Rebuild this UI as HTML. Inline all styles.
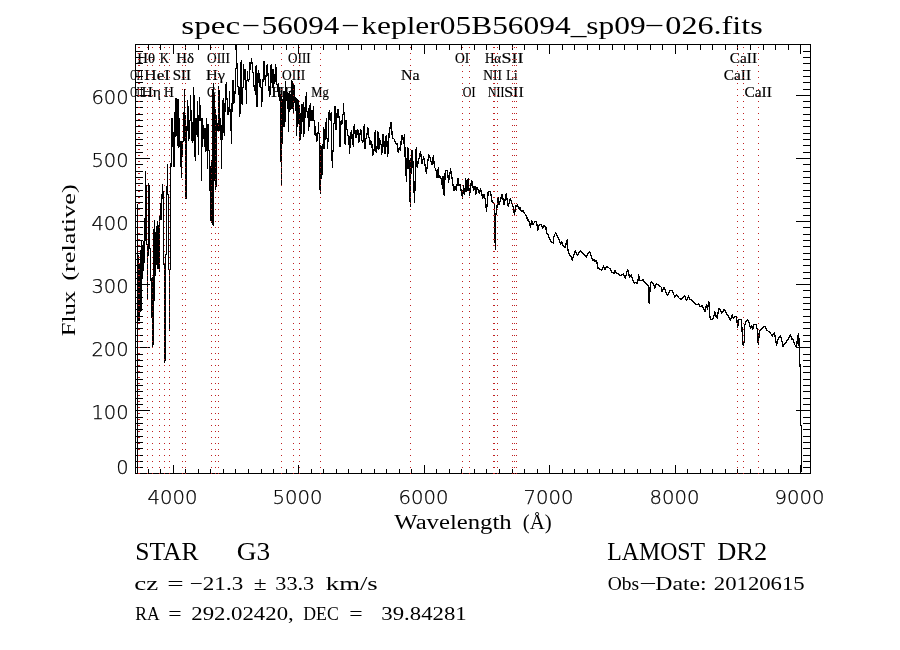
<!DOCTYPE html>
<html><head><meta charset="utf-8"><title>spec-56094-kepler05B56094_sp09-026.fits</title>
<style>html,body{margin:0;padding:0;background:#fff;width:900px;height:650px;overflow:hidden}svg{display:block}</style>
</head><body><svg width="900" height="650" viewBox="0 0 900 650" shape-rendering="crispEdges"><rect x="135.5" y="44.5" width="675" height="429" fill="none" stroke="#000" stroke-width="1"/><path d="M135.5 474V469M135.5 44V50M148.5 474V469M148.5 44V50M160.5 474V469M160.5 44V50M173.5 474V465M173.5 44V54M185.5 474V469M185.5 44V50M198.5 474V469M198.5 44V50M210.5 474V469M210.5 44V50M223.5 474V469M223.5 44V50M235.5 474V469M235.5 44V50M248.5 474V469M248.5 44V50M261.5 474V469M261.5 44V50M273.5 474V469M273.5 44V50M286.5 474V469M286.5 44V50M298.5 474V465M298.5 44V54M311.5 474V469M311.5 44V50M323.5 474V469M323.5 44V50M336.5 474V469M336.5 44V50M348.5 474V469M348.5 44V50M361.5 474V469M361.5 44V50M374.5 474V469M374.5 44V50M386.5 474V469M386.5 44V50M399.5 474V469M399.5 44V50M411.5 474V469M411.5 44V50M424.5 474V465M424.5 44V54M436.5 474V469M436.5 44V50M449.5 474V469M449.5 44V50M461.5 474V469M461.5 44V50M474.5 474V469M474.5 44V50M486.5 474V469M486.5 44V50M499.5 474V469M499.5 44V50M512.5 474V469M512.5 44V50M524.5 474V469M524.5 44V50M537.5 474V469M537.5 44V50M549.5 474V465M549.5 44V54M562.5 474V469M562.5 44V50M574.5 474V469M574.5 44V50M587.5 474V469M587.5 44V50M599.5 474V469M599.5 44V50M612.5 474V469M612.5 44V50M624.5 474V469M624.5 44V50M637.5 474V469M637.5 44V50M650.5 474V469M650.5 44V50M662.5 474V469M662.5 44V50M675.5 474V465M675.5 44V54M687.5 474V469M687.5 44V50M700.5 474V469M700.5 44V50M712.5 474V469M712.5 44V50M725.5 474V469M725.5 44V50M737.5 474V469M737.5 44V50M750.5 474V469M750.5 44V50M763.5 474V469M763.5 44V50M775.5 474V469M775.5 44V50M788.5 474V469M788.5 44V50M800.5 474V465M800.5 44V54M135 473.5H150M811 473.5H796M135 467.5H143M811 467.5H803M135 461.5H143M811 461.5H803M135 455.5H143M811 455.5H803M135 448.5H143M811 448.5H803M135 442.5H143M811 442.5H803M135 436.5H143M811 436.5H803M135 429.5H143M811 429.5H803M135 423.5H143M811 423.5H803M135 417.5H143M811 417.5H803M135 410.5H150M811 410.5H796M135 404.5H143M811 404.5H803M135 398.5H143M811 398.5H803M135 391.5H143M811 391.5H803M135 385.5H143M811 385.5H803M135 379.5H143M811 379.5H803M135 372.5H143M811 372.5H803M135 366.5H143M811 366.5H803M135 360.5H143M811 360.5H803M135 354.5H143M811 354.5H803M135 347.5H150M811 347.5H796M135 341.5H143M811 341.5H803M135 335.5H143M811 335.5H803M135 328.5H143M811 328.5H803M135 322.5H143M811 322.5H803M135 316.5H143M811 316.5H803M135 309.5H143M811 309.5H803M135 303.5H143M811 303.5H803M135 297.5H143M811 297.5H803M135 290.5H143M811 290.5H803M135 284.5H150M811 284.5H796M135 278.5H143M811 278.5H803M135 272.5H143M811 272.5H803M135 265.5H143M811 265.5H803M135 259.5H143M811 259.5H803M135 253.5H143M811 253.5H803M135 246.5H143M811 246.5H803M135 240.5H143M811 240.5H803M135 234.5H143M811 234.5H803M135 227.5H143M811 227.5H803M135 221.5H150M811 221.5H796M135 215.5H143M811 215.5H803M135 208.5H143M811 208.5H803M135 202.5H143M811 202.5H803M135 196.5H143M811 196.5H803M135 190.5H143M811 190.5H803M135 183.5H143M811 183.5H803M135 177.5H143M811 177.5H803M135 171.5H143M811 171.5H803M135 164.5H143M811 164.5H803M135 158.5H150M811 158.5H796M135 152.5H143M811 152.5H803M135 145.5H143M811 145.5H803M135 139.5H143M811 139.5H803M135 133.5H143M811 133.5H803M135 126.5H143M811 126.5H803M135 120.5H143M811 120.5H803M135 114.5H143M811 114.5H803M135 107.5H143M811 107.5H803M135 101.5H143M811 101.5H803M135 95.5H150M811 95.5H796M135 89.5H143M811 89.5H803M135 82.5H143M811 82.5H803M135 76.5H143M811 76.5H803M135 70.5H143M811 70.5H803M135 63.5H143M811 63.5H803M135 57.5H143M811 57.5H803M135 51.5H143M811 51.5H803" stroke="#000" stroke-width="1" fill="none"/><path d="M137.5 204V474M138.5 255V321M139.5 264V321M140.5 250V312M141.5 241V311M142.5 245V279M143.5 241V271M144.5 218V263M145.5 171V241M146.5 185V245M147.5 244V300M148.5 183V256M149.5 185V249M150.5 248V281M151.5 278V318M152.5 277V348M153.5 229V345M154.5 220V301M155.5 232V276M156.5 226V265M157.5 221V269M158.5 225V269M159.5 216V272M160.5 203V220M161.5 194V220M162.5 184V199M163.5 191V265M164.5 263V363M165.5 254V361M166.5 186V255M167.5 164V195M168.5 194V270M169.5 269V331M170.5 163V270M171.5 118V167M172.5 118V147M173.5 132V167M174.5 112V167M175.5 98V137M176.5 98V136M177.5 99V146M178.5 99V148M179.5 118V147M180.5 141V167M181.5 141V178M182.5 141V157M183.5 112V142M184.5 89V141M185.5 115V199M186.5 126V199M187.5 100V131M188.5 106V141M189.5 120V139M190.5 95V121M191.5 110V141M192.5 122V143M193.5 87V141M194.5 95V157M195.5 118V161M196.5 118V135M197.5 101V137M198.5 115V155M199.5 97V121M200.5 105V121M201.5 118V181M202.5 118V147M203.5 125V139M204.5 128V147M205.5 128V152M206.5 118V151M207.5 124V169M208.5 124V151M209.5 150V191M210.5 166V221M211.5 160V223M212.5 89V225M213.5 83V226M214.5 95V181M215.5 109V190M216.5 115V187M217.5 123V131M218.5 86V131M219.5 90V131M220.5 118V140M221.5 125V169M222.5 100V140M223.5 98V133M224.5 103V136M225.5 84V112M226.5 82V100M227.5 98V115M228.5 107V115M229.5 91V112M230.5 109V131M231.5 103V144M232.5 80V112M233.5 80V104M234.5 91V103M235.5 68V94M236.5 44V69M237.5 63V87M238.5 86V95M239.5 87V117M240.5 62V114M241.5 60V104M242.5 87V105M243.5 64V88M244.5 69V80M245.5 69V90M246.5 80V104M247.5 71V81M248.5 79V82M249.5 62V80M250.5 62V70M251.5 58V64M252.5 62V73M253.5 72V87M254.5 85V91M255.5 66V95M256.5 65V107M257.5 73V107M258.5 70V83M259.5 73V87M260.5 79V88M261.5 87V107M262.5 79V102M263.5 61V82M264.5 61V80M265.5 75V86M266.5 65V77M267.5 64V76M268.5 73V91M269.5 86V97M270.5 65V95M271.5 64V83M272.5 69V88M273.5 69V91M274.5 74V84M275.5 64V82M276.5 67V85M277.5 84V92M278.5 83V97M279.5 87V101M280.5 94V162M281.5 95V186M282.5 99V144M283.5 91V127M284.5 91V127M285.5 81V122M286.5 87V101M287.5 92V109M288.5 93V132M289.5 91V112M290.5 94V110M291.5 80V109M292.5 81V109M293.5 84V114M294.5 85V103M295.5 97V111M296.5 98V136M297.5 99V127M298.5 100V124M299.5 105V141M300.5 113V140M301.5 104V134M302.5 104V122M303.5 102V137M304.5 107V134M305.5 96V118M306.5 92V112M307.5 111V118M308.5 108V131M309.5 105V127M310.5 103V121M311.5 110V121M312.5 110V121M313.5 106V121M314.5 120V135M315.5 126V136M316.5 133V142M317.5 132V141M318.5 122V134M319.5 133V190M320.5 145V194M321.5 146V179M322.5 144V175M323.5 127V149M324.5 129V149M325.5 122V140M326.5 118V139M327.5 138V149M328.5 112V142M329.5 110V120M330.5 113V121M331.5 112V161M332.5 150V168M333.5 123V152M334.5 106V124M335.5 106V130M336.5 113V130M337.5 109V118M338.5 109V118M339.5 116V147M340.5 121V147M341.5 120V125M342.5 114V124M343.5 103V115M344.5 112V144M345.5 120V145M346.5 120V130M347.5 129V136M348.5 135V145M349.5 136V154M350.5 132V148M351.5 130V139M352.5 134V145M353.5 126V147M354.5 124V134M355.5 130V138M356.5 130V138M357.5 129V135M358.5 130V143M359.5 133V142M360.5 129V135M361.5 130V141M362.5 140V143M363.5 126V142M364.5 124V149M365.5 138V149M366.5 133V139M367.5 127V135M368.5 128V138M369.5 137V145M370.5 140V145M371.5 141V148M372.5 144V156M373.5 149V155M374.5 132V151M375.5 130V152M376.5 146V153M377.5 131V149M378.5 132V150M379.5 138V149M380.5 140V145M381.5 144V155M382.5 134V153M383.5 134V147M384.5 141V154M385.5 136V154M386.5 135V147M387.5 141V157" fill="none" stroke="#000" stroke-width="1"/><path d="M388.0,150.0 387.8,155.4 389.3,131.5 391.2,122.3 392.4,137.7 394.3,139.2 395.8,143.8 397.0,143.8 398.2,152.0 399.3,147.7 400.5,150.0 401.6,135.4 402.8,136.0 403.5,143.8 404.5,134.2 405.4,165.9 406.5,181.0 407.5,147.5 408.6,150.8 410.3,206.8 411.3,150.2 412.4,150.5 413.5,175.0 414.5,202.5 416.2,148.0 417.2,167.5 420.5,151.3 422.0,163.2 423.7,156.7 426.4,173.4 428.6,155.0 429.6,155.5 431.8,164.8 433.4,156.0 434.5,167.0 436.0,170.0 437.2,177.7 438.3,168.0 438.8,177.7 439.9,176.0 441.0,178.0 441.5,180.0 442.6,188.5 443.1,176.6 444.2,195.5 445.3,170.2 447.4,170.2 448.5,182.0 450.6,169.0 453.9,190.6 455.0,186.0 456.4,190.6 457.8,178.1 459.0,186.0 460.0,184.4 461.2,191.0 462.6,198.2 463.5,186.0 464.7,194.0 465.8,178.8 466.8,191.3 468.1,178.8 469.5,195.4 471.6,180.2 473.7,190.0 475.0,186.0 475.7,194.7 477.1,187.1 479.2,193.4 480.6,189.0 482.7,198.2 484.0,194.0 485.4,200.0 486.5,211.3 487.5,200.0 488.2,191.3 490.3,191.3 492.3,202.3 494.4,203.7 495.3,249.4 495.8,215.0 496.5,212.0 497.9,197.5 499.0,205.0 500.5,200.0 502.0,194.0 504.1,205.0 506.2,194.0 508.2,206.5 510.3,198.2 513.1,206.5 514.5,214.8 515.5,206.0 516.5,206.5 517.5,205.0 519.3,209.3 520.0,207.3 521.2,211.0 523.1,211.0 525.0,214.0 526.8,216.5 527.4,220.2 528.6,219.6 530.5,227.0 531.7,220.8 532.9,224.5 534.8,222.0 536.6,221.5 537.8,230.7 539.0,225.2 540.9,224.5 542.8,228.2 544.0,225.8 545.8,226.4 546.5,233.2 547.7,233.8 548.9,236.8 551.4,242.4 553.2,243.0 553.8,236.8 555.7,232.5 557.5,236.8 559.4,240.5 560.6,244.8 561.8,241.8 563.1,245.5 564.9,247.9 567.4,239.3 567.4,247.9 569.2,254.1 571.1,256.5 572.3,260.2 573.5,255.3 575.4,251.0 577.2,255.3 580.3,251.0 582.2,252.8 583.4,254.1 585.2,255.3 586.5,257.2 588.3,252.8 589.5,251.6 591.4,256.5 592.6,260.8 594.5,259.6 595.0,261.5 596.5,260.7 598.1,268.3 599.9,269.5 601.8,270.2 603.6,265.8 604.8,269.5 606.7,266.5 608.5,267.7 610.4,268.9 612.2,272.6 614.1,273.2 615.3,270.2 616.5,273.8 618.4,273.2 619.6,275.7 621.5,275.1 623.3,273.8 625.2,278.2 627.6,269.5 629.5,276.9 631.3,275.1 633.2,280.6 634.4,283.1 636.2,282.5 637.5,283.7 638.7,275.1 639.9,280.6 641.8,280.6 643.0,279.4 644.8,282.5 646.7,284.3 648.5,286.2 649.2,303.4 650.4,283.1 651.6,281.8 653.5,284.3 654.7,288.0 656.5,283.7 659.0,285.5 661.5,287.4 662.1,291.7 663.9,287.4 665.8,291.7 667.6,295.4 670.1,290.5 671.9,290.5 673.1,292.8 674.9,297.1 676.2,294.6 678.0,296.5 679.2,298.3 681.1,299.5 682.9,297.7 684.8,295.8 686.6,300.8 688.5,295.8 689.7,298.9 692.2,300.8 694.6,303.2 696.5,304.5 698.9,303.8 700.2,306.9 702.0,305.1 703.8,309.4 705.1,311.2 706.3,305.1 707.5,309.4 708.8,301.4 709.4,310.6 710.0,318.0 711.2,319.8 713.1,318.6 714.9,311.8 716.2,316.8 717.4,318.0 718.6,308.2 719.8,309.4 721.7,313.1 724.2,309.4 726.0,312.5 727.8,315.5 730.3,320.5 732.2,314.9 733.4,318.6 735.2,316.2 736.5,316.8 737.7,327.2 738.9,319.2 740.0,320.0 741.4,319.2 741.6,322.6 742.7,340.9 743.2,345.2 744.3,340.9 744.8,324.8 745.9,321.5 747.5,319.9 748.6,320.5 749.7,325.8 750.8,328.0 751.8,325.8 752.7,329.1 754.0,324.8 756.1,324.2 757.2,329.1 757.8,340.9 758.5,344.1 759.2,332.3 760.5,329.6 762.1,328.0 763.1,327.4 765.3,326.4 766.4,329.6 767.4,330.7 769.6,331.8 772.3,336.1 774.4,332.3 776.6,345.2 777.7,339.8 780.4,335.5 781.4,338.8 783.1,346.3 785.2,343.1 787.9,339.8 790.6,334.4 791.7,339.8 792.7,338.8 794.4,344.1 796.5,347.4 797.6,337.1 798.7,333.4 799.2,347.4 799.7,361.4 800.2,368.0 800.4,424.0 801.2,426.0 801.4,472.0" fill="none" stroke="#000" stroke-width="1.3" stroke-linejoin="round"/><g shape-rendering="auto" fill="#000"><text y="33.6" font-size="25.5" font-family="'Liberation Serif', serif" xml:space="preserve"><tspan x="181.30" textLength="58.90" lengthAdjust="spacingAndGlyphs">spec</tspan><tspan x="241.80" textLength="18.40" lengthAdjust="spacingAndGlyphs">&#8722;</tspan><tspan x="261.80" textLength="77.40" lengthAdjust="spacingAndGlyphs">56094</tspan><tspan x="341.30" textLength="18.40" lengthAdjust="spacingAndGlyphs">&#8722;</tspan><tspan x="361.30" textLength="284.40" lengthAdjust="spacingAndGlyphs">kepler05B56094_sp09</tspan><tspan x="644.80" textLength="19.40" lengthAdjust="spacingAndGlyphs">&#8722;</tspan><tspan x="665.30" textLength="97.40" lengthAdjust="spacingAndGlyphs">026.fits</tspan></text><text y="560" font-size="26" font-family="'Liberation Serif', serif" xml:space="preserve"><tspan x="135.30" textLength="63.40" lengthAdjust="spacingAndGlyphs">STAR</tspan> <tspan x="236.80" textLength="33.40" lengthAdjust="spacingAndGlyphs">G3</tspan></text><text y="560" font-size="26" font-family="'Liberation Serif', serif" xml:space="preserve"><tspan x="607.30" textLength="97.40" lengthAdjust="spacingAndGlyphs">LAMOST</tspan> <tspan x="717.30" textLength="49.90" lengthAdjust="spacingAndGlyphs">DR2</tspan></text><text y="590" font-size="19" font-family="'Liberation Serif', serif" xml:space="preserve"><tspan x="134.30" textLength="23.90" lengthAdjust="spacingAndGlyphs">cz</tspan> <tspan x="167.30" textLength="16.40" lengthAdjust="spacingAndGlyphs">=</tspan> <tspan x="189.80" textLength="53.40" lengthAdjust="spacingAndGlyphs">&#8722;21.3</tspan> <tspan x="253.80" textLength="12.90" lengthAdjust="spacingAndGlyphs">&#177;</tspan> <tspan x="275.30" textLength="38.90" lengthAdjust="spacingAndGlyphs">33.3</tspan> <tspan x="325.80" textLength="51.90" lengthAdjust="spacingAndGlyphs">km/s</tspan></text><text y="590" font-size="19" font-family="'Liberation Serif', serif" xml:space="preserve"><tspan x="607.80" textLength="31.40" lengthAdjust="spacingAndGlyphs">Obs</tspan><tspan x="639.30" textLength="17.40" lengthAdjust="spacingAndGlyphs">&#8722;</tspan><tspan x="655.30" textLength="51.40" lengthAdjust="spacingAndGlyphs">Date:</tspan> <tspan x="713.80" textLength="90.90" lengthAdjust="spacingAndGlyphs">20120615</tspan></text><text y="620" font-size="18.6" font-family="'Liberation Serif', serif" xml:space="preserve"><tspan x="135.30" textLength="23.40" lengthAdjust="spacingAndGlyphs">RA</tspan> <tspan x="168.30" textLength="13.40" lengthAdjust="spacingAndGlyphs">=</tspan> <tspan x="191.30" textLength="102.40" lengthAdjust="spacingAndGlyphs">292.02420,</tspan> <tspan x="303.30" textLength="35.40" lengthAdjust="spacingAndGlyphs">DEC</tspan> <tspan x="349.30" textLength="13.40" lengthAdjust="spacingAndGlyphs">=</tspan>  <tspan x="381.30" textLength="85.40" lengthAdjust="spacingAndGlyphs">39.84281</tspan></text><text y="529" font-size="20" font-family="'Liberation Serif', serif" xml:space="preserve"><tspan x="394.30" textLength="117.40" lengthAdjust="spacingAndGlyphs">Wavelength</tspan> <tspan x="522.80" textLength="28.90" lengthAdjust="spacingAndGlyphs">(&#197;)</tspan></text><text y="0" font-size="19" font-family="'Liberation Serif', serif" transform="translate(74.5,0) rotate(-90)" xml:space="preserve"><tspan x="-336.20" textLength="45.40" lengthAdjust="spacingAndGlyphs">Flux</tspan> <tspan x="-280.70" textLength="96.40" lengthAdjust="spacingAndGlyphs">(relative)</tspan></text><text x="172.5" y="503.8" font-size="19.5" font-family="'DejaVu Sans', 'Liberation Sans', sans-serif" font-weight="200" text-anchor="middle" textLength="50" lengthAdjust="spacingAndGlyphs" stroke="#000" stroke-width="0.25">4000</text><text x="297.5" y="503.8" font-size="19.5" font-family="'DejaVu Sans', 'Liberation Sans', sans-serif" font-weight="200" text-anchor="middle" textLength="50" lengthAdjust="spacingAndGlyphs" stroke="#000" stroke-width="0.25">5000</text><text x="423.5" y="503.8" font-size="19.5" font-family="'DejaVu Sans', 'Liberation Sans', sans-serif" font-weight="200" text-anchor="middle" textLength="50" lengthAdjust="spacingAndGlyphs" stroke="#000" stroke-width="0.25">6000</text><text x="548.5" y="503.8" font-size="19.5" font-family="'DejaVu Sans', 'Liberation Sans', sans-serif" font-weight="200" text-anchor="middle" textLength="50" lengthAdjust="spacingAndGlyphs" stroke="#000" stroke-width="0.25">7000</text><text x="674.5" y="503.8" font-size="19.5" font-family="'DejaVu Sans', 'Liberation Sans', sans-serif" font-weight="200" text-anchor="middle" textLength="50" lengthAdjust="spacingAndGlyphs" stroke="#000" stroke-width="0.25">8000</text><text x="799.5" y="503.8" font-size="19.5" font-family="'DejaVu Sans', 'Liberation Sans', sans-serif" font-weight="200" text-anchor="middle" textLength="50" lengthAdjust="spacingAndGlyphs" stroke="#000" stroke-width="0.25">9000</text><text x="128.6" y="419.2" font-size="19.5" font-family="'DejaVu Sans', 'Liberation Sans', sans-serif" font-weight="200" text-anchor="end" textLength="37.2" lengthAdjust="spacingAndGlyphs" stroke="#000" stroke-width="0.25">100</text><text x="128.6" y="356.2" font-size="19.5" font-family="'DejaVu Sans', 'Liberation Sans', sans-serif" font-weight="200" text-anchor="end" textLength="37.2" lengthAdjust="spacingAndGlyphs" stroke="#000" stroke-width="0.25">200</text><text x="128.6" y="293.2" font-size="19.5" font-family="'DejaVu Sans', 'Liberation Sans', sans-serif" font-weight="200" text-anchor="end" textLength="37.2" lengthAdjust="spacingAndGlyphs" stroke="#000" stroke-width="0.25">300</text><text x="128.6" y="230.2" font-size="19.5" font-family="'DejaVu Sans', 'Liberation Sans', sans-serif" font-weight="200" text-anchor="end" textLength="37.2" lengthAdjust="spacingAndGlyphs" stroke="#000" stroke-width="0.25">400</text><text x="128.6" y="167.2" font-size="19.5" font-family="'DejaVu Sans', 'Liberation Sans', sans-serif" font-weight="200" text-anchor="end" textLength="37.2" lengthAdjust="spacingAndGlyphs" stroke="#000" stroke-width="0.25">500</text><text x="128.6" y="104.2" font-size="19.5" font-family="'DejaVu Sans', 'Liberation Sans', sans-serif" font-weight="200" text-anchor="end" textLength="37.2" lengthAdjust="spacingAndGlyphs" stroke="#000" stroke-width="0.25">600</text><text x="128.6" y="474.2" font-size="19.5" font-family="'DejaVu Sans', 'Liberation Sans', sans-serif" font-weight="200" text-anchor="end" textLength="12.4" lengthAdjust="spacingAndGlyphs" stroke="#000" stroke-width="0.25">0</text><text x="137.2" y="63.0" font-size="15" font-family="'Liberation Serif', serif" font-weight="normal" text-anchor="start" textLength="17.8" lengthAdjust="spacingAndGlyphs" stroke="#000" stroke-width="0.2">H&#952;</text><text x="159.8" y="63.0" font-size="15" font-family="'Liberation Serif', serif" font-weight="normal" text-anchor="start" textLength="9.2" lengthAdjust="spacingAndGlyphs" stroke="#000" stroke-width="0.2">K</text><text x="176.3" y="63.0" font-size="15" font-family="'Liberation Serif', serif" font-weight="normal" text-anchor="start" textLength="17.7" lengthAdjust="spacingAndGlyphs" stroke="#000" stroke-width="0.2">H&#948;</text><text x="207.0" y="63.0" font-size="15" font-family="'Liberation Serif', serif" font-weight="normal" text-anchor="start" textLength="23.0" lengthAdjust="spacingAndGlyphs" stroke="#000" stroke-width="0.2">OIII</text><text x="288.1" y="63.0" font-size="15" font-family="'Liberation Serif', serif" font-weight="normal" text-anchor="start" textLength="22.6" lengthAdjust="spacingAndGlyphs" stroke="#000" stroke-width="0.2">OIII</text><text x="455.0" y="63.0" font-size="15" font-family="'Liberation Serif', serif" font-weight="normal" text-anchor="start" textLength="14.3" lengthAdjust="spacingAndGlyphs" stroke="#000" stroke-width="0.2">OI</text><text x="484.9" y="63.0" font-size="15" font-family="'Liberation Serif', serif" font-weight="normal" text-anchor="start" textLength="16.3" lengthAdjust="spacingAndGlyphs" stroke="#000" stroke-width="0.2">H&#945;</text><text x="501.5" y="63.0" font-size="15" font-family="'Liberation Serif', serif" font-weight="normal" text-anchor="start" textLength="21.9" lengthAdjust="spacingAndGlyphs" stroke="#000" stroke-width="0.2">SII</text><text x="729.8" y="63.0" font-size="15" font-family="'Liberation Serif', serif" font-weight="normal" text-anchor="start" textLength="27.2" lengthAdjust="spacingAndGlyphs" stroke="#000" stroke-width="0.2">CaII</text><text x="130.2" y="80" font-size="15" font-family="'Liberation Serif', serif" font-weight="normal" text-anchor="start" textLength="12.8" lengthAdjust="spacingAndGlyphs" stroke="#000" stroke-width="0.2">OII</text><text x="144.3" y="80" font-size="15" font-family="'Liberation Serif', serif" font-weight="normal" text-anchor="start" textLength="25.7" lengthAdjust="spacingAndGlyphs" stroke="#000" stroke-width="0.2">HeI</text><text x="172.7" y="80" font-size="15" font-family="'Liberation Serif', serif" font-weight="normal" text-anchor="start" textLength="18.3" lengthAdjust="spacingAndGlyphs" stroke="#000" stroke-width="0.2">SII</text><text x="206.0" y="80" font-size="15" font-family="'Liberation Serif', serif" font-weight="normal" text-anchor="start" textLength="19.0" lengthAdjust="spacingAndGlyphs" stroke="#000" stroke-width="0.2">H&#947;</text><text x="282.1" y="80" font-size="15" font-family="'Liberation Serif', serif" font-weight="normal" text-anchor="start" textLength="23.1" lengthAdjust="spacingAndGlyphs" stroke="#000" stroke-width="0.2">OIII</text><text x="400.9" y="80" font-size="15" font-family="'Liberation Serif', serif" font-weight="normal" text-anchor="start" textLength="18.6" lengthAdjust="spacingAndGlyphs" stroke="#000" stroke-width="0.2">Na</text><text x="483.3" y="80" font-size="15" font-family="'Liberation Serif', serif" font-weight="normal" text-anchor="start" textLength="18.7" lengthAdjust="spacingAndGlyphs" stroke="#000" stroke-width="0.2">NII</text><text x="506.3" y="80" font-size="15" font-family="'Liberation Serif', serif" font-weight="normal" text-anchor="start" textLength="11.2" lengthAdjust="spacingAndGlyphs" stroke="#000" stroke-width="0.2">Li</text><text x="723.8" y="80" font-size="15" font-family="'Liberation Serif', serif" font-weight="normal" text-anchor="start" textLength="27.2" lengthAdjust="spacingAndGlyphs" stroke="#000" stroke-width="0.2">CaII</text><text x="130.2" y="97" font-size="15" font-family="'Liberation Serif', serif" font-weight="normal" text-anchor="start" textLength="12.8" lengthAdjust="spacingAndGlyphs" stroke="#000" stroke-width="0.2">OII</text><text x="141.5" y="97" font-size="15" font-family="'Liberation Serif', serif" font-weight="normal" text-anchor="start" textLength="19.5" lengthAdjust="spacingAndGlyphs" stroke="#000" stroke-width="0.2">H&#951;</text><text x="164.0" y="97" font-size="15" font-family="'Liberation Serif', serif" font-weight="normal" text-anchor="start" textLength="9.8" lengthAdjust="spacingAndGlyphs" stroke="#000" stroke-width="0.2">H</text><text x="207.0" y="97" font-size="15" font-family="'Liberation Serif', serif" font-weight="normal" text-anchor="start" textLength="9.0" lengthAdjust="spacingAndGlyphs" stroke="#000" stroke-width="0.2">G</text><text x="271.0" y="97" font-size="15" font-family="'Liberation Serif', serif" font-weight="normal" text-anchor="start" textLength="23.0" lengthAdjust="spacingAndGlyphs" stroke="#000" stroke-width="0.2">H&#946;</text><text x="311.2" y="97" font-size="15" font-family="'Liberation Serif', serif" font-weight="normal" text-anchor="start" textLength="17.5" lengthAdjust="spacingAndGlyphs" stroke="#000" stroke-width="0.2">Mg</text><text x="462.8" y="97" font-size="15" font-family="'Liberation Serif', serif" font-weight="normal" text-anchor="start" textLength="12.7" lengthAdjust="spacingAndGlyphs" stroke="#000" stroke-width="0.2">OI</text><text x="488.0" y="97" font-size="15" font-family="'Liberation Serif', serif" font-weight="normal" text-anchor="start" textLength="16.3" lengthAdjust="spacingAndGlyphs" stroke="#000" stroke-width="0.2">NII</text><text x="504.3" y="97" font-size="15" font-family="'Liberation Serif', serif" font-weight="normal" text-anchor="start" textLength="19.4" lengthAdjust="spacingAndGlyphs" stroke="#000" stroke-width="0.2">SII</text><text x="744.5" y="97" font-size="15" font-family="'Liberation Serif', serif" font-weight="normal" text-anchor="start" textLength="27.3" lengthAdjust="spacingAndGlyphs" stroke="#000" stroke-width="0.2">CaII</text></g><path d="M138 47h1v1h-1zM138 53h1v1h-1zM138 59h1v1h-1zM138 65h1v1h-1zM138 71h1v1h-1zM138 77h1v1h-1zM138 83h1v1h-1zM138 89h1v1h-1zM138 95h1v1h-1zM138 101h1v1h-1zM138 107h1v1h-1zM138 113h1v1h-1zM138 119h1v1h-1zM138 125h1v1h-1zM138 131h1v1h-1zM138 137h1v1h-1zM138 143h1v1h-1zM138 149h1v1h-1zM138 155h1v1h-1zM138 161h1v1h-1zM138 167h1v1h-1zM138 173h1v1h-1zM138 179h1v1h-1zM138 185h1v1h-1zM138 191h1v1h-1zM138 197h1v1h-1zM138 203h1v1h-1zM138 209h1v1h-1zM138 215h1v1h-1zM138 221h1v1h-1zM138 227h1v1h-1zM138 233h1v1h-1zM138 239h1v1h-1zM138 245h1v1h-1zM138 251h1v1h-1zM138 257h1v1h-1zM138 263h1v1h-1zM138 269h1v1h-1zM138 275h1v1h-1zM138 281h1v1h-1zM138 287h1v1h-1zM138 293h1v1h-1zM138 299h1v1h-1zM138 305h1v1h-1zM138 311h1v1h-1zM138 317h1v1h-1zM138 323h1v1h-1zM138 329h1v1h-1zM138 335h1v1h-1zM138 341h1v1h-1zM138 347h1v1h-1zM138 353h1v1h-1zM138 359h1v1h-1zM138 365h1v1h-1zM138 371h1v1h-1zM138 377h1v1h-1zM138 383h1v1h-1zM138 389h1v1h-1zM138 395h1v1h-1zM138 401h1v1h-1zM138 407h1v1h-1zM138 413h1v1h-1zM138 419h1v1h-1zM138 425h1v1h-1zM138 431h1v1h-1zM138 437h1v1h-1zM138 443h1v1h-1zM138 449h1v1h-1zM138 455h1v1h-1zM138 461h1v1h-1zM138 467h1v1h-1zM138 473h1v1h-1zM139 47h1v1h-1zM139 53h1v1h-1zM139 59h1v1h-1zM139 65h1v1h-1zM139 71h1v1h-1zM139 77h1v1h-1zM139 83h1v1h-1zM139 89h1v1h-1zM139 95h1v1h-1zM139 101h1v1h-1zM139 107h1v1h-1zM139 113h1v1h-1zM139 119h1v1h-1zM139 125h1v1h-1zM139 131h1v1h-1zM139 137h1v1h-1zM139 143h1v1h-1zM139 149h1v1h-1zM139 155h1v1h-1zM139 161h1v1h-1zM139 167h1v1h-1zM139 173h1v1h-1zM139 179h1v1h-1zM139 185h1v1h-1zM139 191h1v1h-1zM139 197h1v1h-1zM139 203h1v1h-1zM139 209h1v1h-1zM139 215h1v1h-1zM139 221h1v1h-1zM139 227h1v1h-1zM139 233h1v1h-1zM139 239h1v1h-1zM139 245h1v1h-1zM139 251h1v1h-1zM139 257h1v1h-1zM139 263h1v1h-1zM139 269h1v1h-1zM139 275h1v1h-1zM139 281h1v1h-1zM139 287h1v1h-1zM139 293h1v1h-1zM139 299h1v1h-1zM139 305h1v1h-1zM139 311h1v1h-1zM139 317h1v1h-1zM139 323h1v1h-1zM139 329h1v1h-1zM139 335h1v1h-1zM139 341h1v1h-1zM139 347h1v1h-1zM139 353h1v1h-1zM139 359h1v1h-1zM139 365h1v1h-1zM139 371h1v1h-1zM139 377h1v1h-1zM139 383h1v1h-1zM139 389h1v1h-1zM139 395h1v1h-1zM139 401h1v1h-1zM139 407h1v1h-1zM139 413h1v1h-1zM139 419h1v1h-1zM139 425h1v1h-1zM139 431h1v1h-1zM139 437h1v1h-1zM139 443h1v1h-1zM139 449h1v1h-1zM139 455h1v1h-1zM139 461h1v1h-1zM139 467h1v1h-1zM139 473h1v1h-1zM147 47h1v1h-1zM147 53h1v1h-1zM147 59h1v1h-1zM147 65h1v1h-1zM147 71h1v1h-1zM147 77h1v1h-1zM147 83h1v1h-1zM147 89h1v1h-1zM147 95h1v1h-1zM147 101h1v1h-1zM147 107h1v1h-1zM147 113h1v1h-1zM147 119h1v1h-1zM147 125h1v1h-1zM147 131h1v1h-1zM147 137h1v1h-1zM147 143h1v1h-1zM147 149h1v1h-1zM147 155h1v1h-1zM147 161h1v1h-1zM147 167h1v1h-1zM147 173h1v1h-1zM147 179h1v1h-1zM147 185h1v1h-1zM147 191h1v1h-1zM147 197h1v1h-1zM147 203h1v1h-1zM147 209h1v1h-1zM147 215h1v1h-1zM147 221h1v1h-1zM147 227h1v1h-1zM147 233h1v1h-1zM147 239h1v1h-1zM147 245h1v1h-1zM147 251h1v1h-1zM147 257h1v1h-1zM147 263h1v1h-1zM147 269h1v1h-1zM147 275h1v1h-1zM147 281h1v1h-1zM147 287h1v1h-1zM147 293h1v1h-1zM147 299h1v1h-1zM147 305h1v1h-1zM147 311h1v1h-1zM147 317h1v1h-1zM147 323h1v1h-1zM147 329h1v1h-1zM147 335h1v1h-1zM147 341h1v1h-1zM147 347h1v1h-1zM147 353h1v1h-1zM147 359h1v1h-1zM147 365h1v1h-1zM147 371h1v1h-1zM147 377h1v1h-1zM147 383h1v1h-1zM147 389h1v1h-1zM147 395h1v1h-1zM147 401h1v1h-1zM147 407h1v1h-1zM147 413h1v1h-1zM147 419h1v1h-1zM147 425h1v1h-1zM147 431h1v1h-1zM147 437h1v1h-1zM147 443h1v1h-1zM147 449h1v1h-1zM147 455h1v1h-1zM147 461h1v1h-1zM147 467h1v1h-1zM147 473h1v1h-1zM152 47h1v1h-1zM152 53h1v1h-1zM152 59h1v1h-1zM152 65h1v1h-1zM152 71h1v1h-1zM152 77h1v1h-1zM152 83h1v1h-1zM152 89h1v1h-1zM152 95h1v1h-1zM152 101h1v1h-1zM152 107h1v1h-1zM152 113h1v1h-1zM152 119h1v1h-1zM152 125h1v1h-1zM152 131h1v1h-1zM152 137h1v1h-1zM152 143h1v1h-1zM152 149h1v1h-1zM152 155h1v1h-1zM152 161h1v1h-1zM152 167h1v1h-1zM152 173h1v1h-1zM152 179h1v1h-1zM152 185h1v1h-1zM152 191h1v1h-1zM152 197h1v1h-1zM152 203h1v1h-1zM152 209h1v1h-1zM152 215h1v1h-1zM152 221h1v1h-1zM152 227h1v1h-1zM152 233h1v1h-1zM152 239h1v1h-1zM152 245h1v1h-1zM152 251h1v1h-1zM152 257h1v1h-1zM152 263h1v1h-1zM152 269h1v1h-1zM152 275h1v1h-1zM152 281h1v1h-1zM152 287h1v1h-1zM152 293h1v1h-1zM152 299h1v1h-1zM152 305h1v1h-1zM152 311h1v1h-1zM152 317h1v1h-1zM152 323h1v1h-1zM152 329h1v1h-1zM152 335h1v1h-1zM152 341h1v1h-1zM152 347h1v1h-1zM152 353h1v1h-1zM152 359h1v1h-1zM152 365h1v1h-1zM152 371h1v1h-1zM152 377h1v1h-1zM152 383h1v1h-1zM152 389h1v1h-1zM152 395h1v1h-1zM152 401h1v1h-1zM152 407h1v1h-1zM152 413h1v1h-1zM152 419h1v1h-1zM152 425h1v1h-1zM152 431h1v1h-1zM152 437h1v1h-1zM152 443h1v1h-1zM152 449h1v1h-1zM152 455h1v1h-1zM152 461h1v1h-1zM152 467h1v1h-1zM152 473h1v1h-1zM159 47h1v1h-1zM159 53h1v1h-1zM159 59h1v1h-1zM159 65h1v1h-1zM159 71h1v1h-1zM159 77h1v1h-1zM159 83h1v1h-1zM159 89h1v1h-1zM159 95h1v1h-1zM159 101h1v1h-1zM159 107h1v1h-1zM159 113h1v1h-1zM159 119h1v1h-1zM159 125h1v1h-1zM159 131h1v1h-1zM159 137h1v1h-1zM159 143h1v1h-1zM159 149h1v1h-1zM159 155h1v1h-1zM159 161h1v1h-1zM159 167h1v1h-1zM159 173h1v1h-1zM159 179h1v1h-1zM159 185h1v1h-1zM159 191h1v1h-1zM159 197h1v1h-1zM159 203h1v1h-1zM159 209h1v1h-1zM159 215h1v1h-1zM159 221h1v1h-1zM159 227h1v1h-1zM159 233h1v1h-1zM159 239h1v1h-1zM159 245h1v1h-1zM159 251h1v1h-1zM159 257h1v1h-1zM159 263h1v1h-1zM159 269h1v1h-1zM159 275h1v1h-1zM159 281h1v1h-1zM159 287h1v1h-1zM159 293h1v1h-1zM159 299h1v1h-1zM159 305h1v1h-1zM159 311h1v1h-1zM159 317h1v1h-1zM159 323h1v1h-1zM159 329h1v1h-1zM159 335h1v1h-1zM159 341h1v1h-1zM159 347h1v1h-1zM159 353h1v1h-1zM159 359h1v1h-1zM159 365h1v1h-1zM159 371h1v1h-1zM159 377h1v1h-1zM159 383h1v1h-1zM159 389h1v1h-1zM159 395h1v1h-1zM159 401h1v1h-1zM159 407h1v1h-1zM159 413h1v1h-1zM159 419h1v1h-1zM159 425h1v1h-1zM159 431h1v1h-1zM159 437h1v1h-1zM159 443h1v1h-1zM159 449h1v1h-1zM159 455h1v1h-1zM159 461h1v1h-1zM159 467h1v1h-1zM159 473h1v1h-1zM164 47h1v1h-1zM164 53h1v1h-1zM164 59h1v1h-1zM164 65h1v1h-1zM164 71h1v1h-1zM164 77h1v1h-1zM164 83h1v1h-1zM164 89h1v1h-1zM164 95h1v1h-1zM164 101h1v1h-1zM164 107h1v1h-1zM164 113h1v1h-1zM164 119h1v1h-1zM164 125h1v1h-1zM164 131h1v1h-1zM164 137h1v1h-1zM164 143h1v1h-1zM164 149h1v1h-1zM164 155h1v1h-1zM164 161h1v1h-1zM164 167h1v1h-1zM164 173h1v1h-1zM164 179h1v1h-1zM164 185h1v1h-1zM164 191h1v1h-1zM164 197h1v1h-1zM164 203h1v1h-1zM164 209h1v1h-1zM164 215h1v1h-1zM164 221h1v1h-1zM164 227h1v1h-1zM164 233h1v1h-1zM164 239h1v1h-1zM164 245h1v1h-1zM164 251h1v1h-1zM164 257h1v1h-1zM164 263h1v1h-1zM164 269h1v1h-1zM164 275h1v1h-1zM164 281h1v1h-1zM164 287h1v1h-1zM164 293h1v1h-1zM164 299h1v1h-1zM164 305h1v1h-1zM164 311h1v1h-1zM164 317h1v1h-1zM164 323h1v1h-1zM164 329h1v1h-1zM164 335h1v1h-1zM164 341h1v1h-1zM164 347h1v1h-1zM164 353h1v1h-1zM164 359h1v1h-1zM164 365h1v1h-1zM164 371h1v1h-1zM164 377h1v1h-1zM164 383h1v1h-1zM164 389h1v1h-1zM164 395h1v1h-1zM164 401h1v1h-1zM164 407h1v1h-1zM164 413h1v1h-1zM164 419h1v1h-1zM164 425h1v1h-1zM164 431h1v1h-1zM164 437h1v1h-1zM164 443h1v1h-1zM164 449h1v1h-1zM164 455h1v1h-1zM164 461h1v1h-1zM164 467h1v1h-1zM164 473h1v1h-1zM169 47h1v1h-1zM169 53h1v1h-1zM169 59h1v1h-1zM169 65h1v1h-1zM169 71h1v1h-1zM169 77h1v1h-1zM169 83h1v1h-1zM169 89h1v1h-1zM169 95h1v1h-1zM169 101h1v1h-1zM169 107h1v1h-1zM169 113h1v1h-1zM169 119h1v1h-1zM169 125h1v1h-1zM169 131h1v1h-1zM169 137h1v1h-1zM169 143h1v1h-1zM169 149h1v1h-1zM169 155h1v1h-1zM169 161h1v1h-1zM169 167h1v1h-1zM169 173h1v1h-1zM169 179h1v1h-1zM169 185h1v1h-1zM169 191h1v1h-1zM169 197h1v1h-1zM169 203h1v1h-1zM169 209h1v1h-1zM169 215h1v1h-1zM169 221h1v1h-1zM169 227h1v1h-1zM169 233h1v1h-1zM169 239h1v1h-1zM169 245h1v1h-1zM169 251h1v1h-1zM169 257h1v1h-1zM169 263h1v1h-1zM169 269h1v1h-1zM169 275h1v1h-1zM169 281h1v1h-1zM169 287h1v1h-1zM169 293h1v1h-1zM169 299h1v1h-1zM169 305h1v1h-1zM169 311h1v1h-1zM169 317h1v1h-1zM169 323h1v1h-1zM169 329h1v1h-1zM169 335h1v1h-1zM169 341h1v1h-1zM169 347h1v1h-1zM169 353h1v1h-1zM169 359h1v1h-1zM169 365h1v1h-1zM169 371h1v1h-1zM169 377h1v1h-1zM169 383h1v1h-1zM169 389h1v1h-1zM169 395h1v1h-1zM169 401h1v1h-1zM169 407h1v1h-1zM169 413h1v1h-1zM169 419h1v1h-1zM169 425h1v1h-1zM169 431h1v1h-1zM169 437h1v1h-1zM169 443h1v1h-1zM169 449h1v1h-1zM169 455h1v1h-1zM169 461h1v1h-1zM169 467h1v1h-1zM169 473h1v1h-1zM182 47h1v1h-1zM182 53h1v1h-1zM182 59h1v1h-1zM182 65h1v1h-1zM182 71h1v1h-1zM182 77h1v1h-1zM182 83h1v1h-1zM182 89h1v1h-1zM182 95h1v1h-1zM182 101h1v1h-1zM182 107h1v1h-1zM182 113h1v1h-1zM182 119h1v1h-1zM182 125h1v1h-1zM182 131h1v1h-1zM182 137h1v1h-1zM182 143h1v1h-1zM182 149h1v1h-1zM182 155h1v1h-1zM182 161h1v1h-1zM182 167h1v1h-1zM182 173h1v1h-1zM182 179h1v1h-1zM182 185h1v1h-1zM182 191h1v1h-1zM182 197h1v1h-1zM182 203h1v1h-1zM182 209h1v1h-1zM182 215h1v1h-1zM182 221h1v1h-1zM182 227h1v1h-1zM182 233h1v1h-1zM182 239h1v1h-1zM182 245h1v1h-1zM182 251h1v1h-1zM182 257h1v1h-1zM182 263h1v1h-1zM182 269h1v1h-1zM182 275h1v1h-1zM182 281h1v1h-1zM182 287h1v1h-1zM182 293h1v1h-1zM182 299h1v1h-1zM182 305h1v1h-1zM182 311h1v1h-1zM182 317h1v1h-1zM182 323h1v1h-1zM182 329h1v1h-1zM182 335h1v1h-1zM182 341h1v1h-1zM182 347h1v1h-1zM182 353h1v1h-1zM182 359h1v1h-1zM182 365h1v1h-1zM182 371h1v1h-1zM182 377h1v1h-1zM182 383h1v1h-1zM182 389h1v1h-1zM182 395h1v1h-1zM182 401h1v1h-1zM182 407h1v1h-1zM182 413h1v1h-1zM182 419h1v1h-1zM182 425h1v1h-1zM182 431h1v1h-1zM182 437h1v1h-1zM182 443h1v1h-1zM182 449h1v1h-1zM182 455h1v1h-1zM182 461h1v1h-1zM182 467h1v1h-1zM182 473h1v1h-1zM185 47h1v1h-1zM185 53h1v1h-1zM185 59h1v1h-1zM185 65h1v1h-1zM185 71h1v1h-1zM185 77h1v1h-1zM185 83h1v1h-1zM185 89h1v1h-1zM185 95h1v1h-1zM185 101h1v1h-1zM185 107h1v1h-1zM185 113h1v1h-1zM185 119h1v1h-1zM185 125h1v1h-1zM185 131h1v1h-1zM185 137h1v1h-1zM185 143h1v1h-1zM185 149h1v1h-1zM185 155h1v1h-1zM185 161h1v1h-1zM185 167h1v1h-1zM185 173h1v1h-1zM185 179h1v1h-1zM185 185h1v1h-1zM185 191h1v1h-1zM185 197h1v1h-1zM185 203h1v1h-1zM185 209h1v1h-1zM185 215h1v1h-1zM185 221h1v1h-1zM185 227h1v1h-1zM185 233h1v1h-1zM185 239h1v1h-1zM185 245h1v1h-1zM185 251h1v1h-1zM185 257h1v1h-1zM185 263h1v1h-1zM185 269h1v1h-1zM185 275h1v1h-1zM185 281h1v1h-1zM185 287h1v1h-1zM185 293h1v1h-1zM185 299h1v1h-1zM185 305h1v1h-1zM185 311h1v1h-1zM185 317h1v1h-1zM185 323h1v1h-1zM185 329h1v1h-1zM185 335h1v1h-1zM185 341h1v1h-1zM185 347h1v1h-1zM185 353h1v1h-1zM185 359h1v1h-1zM185 365h1v1h-1zM185 371h1v1h-1zM185 377h1v1h-1zM185 383h1v1h-1zM185 389h1v1h-1zM185 395h1v1h-1zM185 401h1v1h-1zM185 407h1v1h-1zM185 413h1v1h-1zM185 419h1v1h-1zM185 425h1v1h-1zM185 431h1v1h-1zM185 437h1v1h-1zM185 443h1v1h-1zM185 449h1v1h-1zM185 455h1v1h-1zM185 461h1v1h-1zM185 467h1v1h-1zM185 473h1v1h-1zM211 47h1v1h-1zM211 53h1v1h-1zM211 59h1v1h-1zM211 65h1v1h-1zM211 71h1v1h-1zM211 77h1v1h-1zM211 83h1v1h-1zM211 89h1v1h-1zM211 95h1v1h-1zM211 101h1v1h-1zM211 107h1v1h-1zM211 113h1v1h-1zM211 119h1v1h-1zM211 125h1v1h-1zM211 131h1v1h-1zM211 137h1v1h-1zM211 143h1v1h-1zM211 149h1v1h-1zM211 155h1v1h-1zM211 161h1v1h-1zM211 167h1v1h-1zM211 173h1v1h-1zM211 179h1v1h-1zM211 185h1v1h-1zM211 191h1v1h-1zM211 197h1v1h-1zM211 203h1v1h-1zM211 209h1v1h-1zM211 215h1v1h-1zM211 221h1v1h-1zM211 227h1v1h-1zM211 233h1v1h-1zM211 239h1v1h-1zM211 245h1v1h-1zM211 251h1v1h-1zM211 257h1v1h-1zM211 263h1v1h-1zM211 269h1v1h-1zM211 275h1v1h-1zM211 281h1v1h-1zM211 287h1v1h-1zM211 293h1v1h-1zM211 299h1v1h-1zM211 305h1v1h-1zM211 311h1v1h-1zM211 317h1v1h-1zM211 323h1v1h-1zM211 329h1v1h-1zM211 335h1v1h-1zM211 341h1v1h-1zM211 347h1v1h-1zM211 353h1v1h-1zM211 359h1v1h-1zM211 365h1v1h-1zM211 371h1v1h-1zM211 377h1v1h-1zM211 383h1v1h-1zM211 389h1v1h-1zM211 395h1v1h-1zM211 401h1v1h-1zM211 407h1v1h-1zM211 413h1v1h-1zM211 419h1v1h-1zM211 425h1v1h-1zM211 431h1v1h-1zM211 437h1v1h-1zM211 443h1v1h-1zM211 449h1v1h-1zM211 455h1v1h-1zM211 461h1v1h-1zM211 467h1v1h-1zM211 473h1v1h-1zM215 47h1v1h-1zM215 53h1v1h-1zM215 59h1v1h-1zM215 65h1v1h-1zM215 71h1v1h-1zM215 77h1v1h-1zM215 83h1v1h-1zM215 89h1v1h-1zM215 95h1v1h-1zM215 101h1v1h-1zM215 107h1v1h-1zM215 113h1v1h-1zM215 119h1v1h-1zM215 125h1v1h-1zM215 131h1v1h-1zM215 137h1v1h-1zM215 143h1v1h-1zM215 149h1v1h-1zM215 155h1v1h-1zM215 161h1v1h-1zM215 167h1v1h-1zM215 173h1v1h-1zM215 179h1v1h-1zM215 185h1v1h-1zM215 191h1v1h-1zM215 197h1v1h-1zM215 203h1v1h-1zM215 209h1v1h-1zM215 215h1v1h-1zM215 221h1v1h-1zM215 227h1v1h-1zM215 233h1v1h-1zM215 239h1v1h-1zM215 245h1v1h-1zM215 251h1v1h-1zM215 257h1v1h-1zM215 263h1v1h-1zM215 269h1v1h-1zM215 275h1v1h-1zM215 281h1v1h-1zM215 287h1v1h-1zM215 293h1v1h-1zM215 299h1v1h-1zM215 305h1v1h-1zM215 311h1v1h-1zM215 317h1v1h-1zM215 323h1v1h-1zM215 329h1v1h-1zM215 335h1v1h-1zM215 341h1v1h-1zM215 347h1v1h-1zM215 353h1v1h-1zM215 359h1v1h-1zM215 365h1v1h-1zM215 371h1v1h-1zM215 377h1v1h-1zM215 383h1v1h-1zM215 389h1v1h-1zM215 395h1v1h-1zM215 401h1v1h-1zM215 407h1v1h-1zM215 413h1v1h-1zM215 419h1v1h-1zM215 425h1v1h-1zM215 431h1v1h-1zM215 437h1v1h-1zM215 443h1v1h-1zM215 449h1v1h-1zM215 455h1v1h-1zM215 461h1v1h-1zM215 467h1v1h-1zM215 473h1v1h-1zM218 47h1v1h-1zM218 53h1v1h-1zM218 59h1v1h-1zM218 65h1v1h-1zM218 71h1v1h-1zM218 77h1v1h-1zM218 83h1v1h-1zM218 89h1v1h-1zM218 95h1v1h-1zM218 101h1v1h-1zM218 107h1v1h-1zM218 113h1v1h-1zM218 119h1v1h-1zM218 125h1v1h-1zM218 131h1v1h-1zM218 137h1v1h-1zM218 143h1v1h-1zM218 149h1v1h-1zM218 155h1v1h-1zM218 161h1v1h-1zM218 167h1v1h-1zM218 173h1v1h-1zM218 179h1v1h-1zM218 185h1v1h-1zM218 191h1v1h-1zM218 197h1v1h-1zM218 203h1v1h-1zM218 209h1v1h-1zM218 215h1v1h-1zM218 221h1v1h-1zM218 227h1v1h-1zM218 233h1v1h-1zM218 239h1v1h-1zM218 245h1v1h-1zM218 251h1v1h-1zM218 257h1v1h-1zM218 263h1v1h-1zM218 269h1v1h-1zM218 275h1v1h-1zM218 281h1v1h-1zM218 287h1v1h-1zM218 293h1v1h-1zM218 299h1v1h-1zM218 305h1v1h-1zM218 311h1v1h-1zM218 317h1v1h-1zM218 323h1v1h-1zM218 329h1v1h-1zM218 335h1v1h-1zM218 341h1v1h-1zM218 347h1v1h-1zM218 353h1v1h-1zM218 359h1v1h-1zM218 365h1v1h-1zM218 371h1v1h-1zM218 377h1v1h-1zM218 383h1v1h-1zM218 389h1v1h-1zM218 395h1v1h-1zM218 401h1v1h-1zM218 407h1v1h-1zM218 413h1v1h-1zM218 419h1v1h-1zM218 425h1v1h-1zM218 431h1v1h-1zM218 437h1v1h-1zM218 443h1v1h-1zM218 449h1v1h-1zM218 455h1v1h-1zM218 461h1v1h-1zM218 467h1v1h-1zM218 473h1v1h-1zM281 47h1v1h-1zM281 53h1v1h-1zM281 59h1v1h-1zM281 65h1v1h-1zM281 71h1v1h-1zM281 77h1v1h-1zM281 83h1v1h-1zM281 89h1v1h-1zM281 95h1v1h-1zM281 101h1v1h-1zM281 107h1v1h-1zM281 113h1v1h-1zM281 119h1v1h-1zM281 125h1v1h-1zM281 131h1v1h-1zM281 137h1v1h-1zM281 143h1v1h-1zM281 149h1v1h-1zM281 155h1v1h-1zM281 161h1v1h-1zM281 167h1v1h-1zM281 173h1v1h-1zM281 179h1v1h-1zM281 185h1v1h-1zM281 191h1v1h-1zM281 197h1v1h-1zM281 203h1v1h-1zM281 209h1v1h-1zM281 215h1v1h-1zM281 221h1v1h-1zM281 227h1v1h-1zM281 233h1v1h-1zM281 239h1v1h-1zM281 245h1v1h-1zM281 251h1v1h-1zM281 257h1v1h-1zM281 263h1v1h-1zM281 269h1v1h-1zM281 275h1v1h-1zM281 281h1v1h-1zM281 287h1v1h-1zM281 293h1v1h-1zM281 299h1v1h-1zM281 305h1v1h-1zM281 311h1v1h-1zM281 317h1v1h-1zM281 323h1v1h-1zM281 329h1v1h-1zM281 335h1v1h-1zM281 341h1v1h-1zM281 347h1v1h-1zM281 353h1v1h-1zM281 359h1v1h-1zM281 365h1v1h-1zM281 371h1v1h-1zM281 377h1v1h-1zM281 383h1v1h-1zM281 389h1v1h-1zM281 395h1v1h-1zM281 401h1v1h-1zM281 407h1v1h-1zM281 413h1v1h-1zM281 419h1v1h-1zM281 425h1v1h-1zM281 431h1v1h-1zM281 437h1v1h-1zM281 443h1v1h-1zM281 449h1v1h-1zM281 455h1v1h-1zM281 461h1v1h-1zM281 467h1v1h-1zM281 473h1v1h-1zM293 47h1v1h-1zM293 53h1v1h-1zM293 59h1v1h-1zM293 65h1v1h-1zM293 71h1v1h-1zM293 77h1v1h-1zM293 83h1v1h-1zM293 89h1v1h-1zM293 95h1v1h-1zM293 101h1v1h-1zM293 107h1v1h-1zM293 113h1v1h-1zM293 119h1v1h-1zM293 125h1v1h-1zM293 131h1v1h-1zM293 137h1v1h-1zM293 143h1v1h-1zM293 149h1v1h-1zM293 155h1v1h-1zM293 161h1v1h-1zM293 167h1v1h-1zM293 173h1v1h-1zM293 179h1v1h-1zM293 185h1v1h-1zM293 191h1v1h-1zM293 197h1v1h-1zM293 203h1v1h-1zM293 209h1v1h-1zM293 215h1v1h-1zM293 221h1v1h-1zM293 227h1v1h-1zM293 233h1v1h-1zM293 239h1v1h-1zM293 245h1v1h-1zM293 251h1v1h-1zM293 257h1v1h-1zM293 263h1v1h-1zM293 269h1v1h-1zM293 275h1v1h-1zM293 281h1v1h-1zM293 287h1v1h-1zM293 293h1v1h-1zM293 299h1v1h-1zM293 305h1v1h-1zM293 311h1v1h-1zM293 317h1v1h-1zM293 323h1v1h-1zM293 329h1v1h-1zM293 335h1v1h-1zM293 341h1v1h-1zM293 347h1v1h-1zM293 353h1v1h-1zM293 359h1v1h-1zM293 365h1v1h-1zM293 371h1v1h-1zM293 377h1v1h-1zM293 383h1v1h-1zM293 389h1v1h-1zM293 395h1v1h-1zM293 401h1v1h-1zM293 407h1v1h-1zM293 413h1v1h-1zM293 419h1v1h-1zM293 425h1v1h-1zM293 431h1v1h-1zM293 437h1v1h-1zM293 443h1v1h-1zM293 449h1v1h-1zM293 455h1v1h-1zM293 461h1v1h-1zM293 467h1v1h-1zM293 473h1v1h-1zM299 47h1v1h-1zM299 53h1v1h-1zM299 59h1v1h-1zM299 65h1v1h-1zM299 71h1v1h-1zM299 77h1v1h-1zM299 83h1v1h-1zM299 89h1v1h-1zM299 95h1v1h-1zM299 101h1v1h-1zM299 107h1v1h-1zM299 113h1v1h-1zM299 119h1v1h-1zM299 125h1v1h-1zM299 131h1v1h-1zM299 137h1v1h-1zM299 143h1v1h-1zM299 149h1v1h-1zM299 155h1v1h-1zM299 161h1v1h-1zM299 167h1v1h-1zM299 173h1v1h-1zM299 179h1v1h-1zM299 185h1v1h-1zM299 191h1v1h-1zM299 197h1v1h-1zM299 203h1v1h-1zM299 209h1v1h-1zM299 215h1v1h-1zM299 221h1v1h-1zM299 227h1v1h-1zM299 233h1v1h-1zM299 239h1v1h-1zM299 245h1v1h-1zM299 251h1v1h-1zM299 257h1v1h-1zM299 263h1v1h-1zM299 269h1v1h-1zM299 275h1v1h-1zM299 281h1v1h-1zM299 287h1v1h-1zM299 293h1v1h-1zM299 299h1v1h-1zM299 305h1v1h-1zM299 311h1v1h-1zM299 317h1v1h-1zM299 323h1v1h-1zM299 329h1v1h-1zM299 335h1v1h-1zM299 341h1v1h-1zM299 347h1v1h-1zM299 353h1v1h-1zM299 359h1v1h-1zM299 365h1v1h-1zM299 371h1v1h-1zM299 377h1v1h-1zM299 383h1v1h-1zM299 389h1v1h-1zM299 395h1v1h-1zM299 401h1v1h-1zM299 407h1v1h-1zM299 413h1v1h-1zM299 419h1v1h-1zM299 425h1v1h-1zM299 431h1v1h-1zM299 437h1v1h-1zM299 443h1v1h-1zM299 449h1v1h-1zM299 455h1v1h-1zM299 461h1v1h-1zM299 467h1v1h-1zM299 473h1v1h-1zM320 47h1v1h-1zM320 53h1v1h-1zM320 59h1v1h-1zM320 65h1v1h-1zM320 71h1v1h-1zM320 77h1v1h-1zM320 83h1v1h-1zM320 89h1v1h-1zM320 95h1v1h-1zM320 101h1v1h-1zM320 107h1v1h-1zM320 113h1v1h-1zM320 119h1v1h-1zM320 125h1v1h-1zM320 131h1v1h-1zM320 137h1v1h-1zM320 143h1v1h-1zM320 149h1v1h-1zM320 155h1v1h-1zM320 161h1v1h-1zM320 167h1v1h-1zM320 173h1v1h-1zM320 179h1v1h-1zM320 185h1v1h-1zM320 191h1v1h-1zM320 197h1v1h-1zM320 203h1v1h-1zM320 209h1v1h-1zM320 215h1v1h-1zM320 221h1v1h-1zM320 227h1v1h-1zM320 233h1v1h-1zM320 239h1v1h-1zM320 245h1v1h-1zM320 251h1v1h-1zM320 257h1v1h-1zM320 263h1v1h-1zM320 269h1v1h-1zM320 275h1v1h-1zM320 281h1v1h-1zM320 287h1v1h-1zM320 293h1v1h-1zM320 299h1v1h-1zM320 305h1v1h-1zM320 311h1v1h-1zM320 317h1v1h-1zM320 323h1v1h-1zM320 329h1v1h-1zM320 335h1v1h-1zM320 341h1v1h-1zM320 347h1v1h-1zM320 353h1v1h-1zM320 359h1v1h-1zM320 365h1v1h-1zM320 371h1v1h-1zM320 377h1v1h-1zM320 383h1v1h-1zM320 389h1v1h-1zM320 395h1v1h-1zM320 401h1v1h-1zM320 407h1v1h-1zM320 413h1v1h-1zM320 419h1v1h-1zM320 425h1v1h-1zM320 431h1v1h-1zM320 437h1v1h-1zM320 443h1v1h-1zM320 449h1v1h-1zM320 455h1v1h-1zM320 461h1v1h-1zM320 467h1v1h-1zM320 473h1v1h-1zM410 47h1v1h-1zM410 53h1v1h-1zM410 59h1v1h-1zM410 65h1v1h-1zM410 71h1v1h-1zM410 77h1v1h-1zM410 83h1v1h-1zM410 89h1v1h-1zM410 95h1v1h-1zM410 101h1v1h-1zM410 107h1v1h-1zM410 113h1v1h-1zM410 119h1v1h-1zM410 125h1v1h-1zM410 131h1v1h-1zM410 137h1v1h-1zM410 143h1v1h-1zM410 149h1v1h-1zM410 155h1v1h-1zM410 161h1v1h-1zM410 167h1v1h-1zM410 173h1v1h-1zM410 179h1v1h-1zM410 185h1v1h-1zM410 191h1v1h-1zM410 197h1v1h-1zM410 203h1v1h-1zM410 209h1v1h-1zM410 215h1v1h-1zM410 221h1v1h-1zM410 227h1v1h-1zM410 233h1v1h-1zM410 239h1v1h-1zM410 245h1v1h-1zM410 251h1v1h-1zM410 257h1v1h-1zM410 263h1v1h-1zM410 269h1v1h-1zM410 275h1v1h-1zM410 281h1v1h-1zM410 287h1v1h-1zM410 293h1v1h-1zM410 299h1v1h-1zM410 305h1v1h-1zM410 311h1v1h-1zM410 317h1v1h-1zM410 323h1v1h-1zM410 329h1v1h-1zM410 335h1v1h-1zM410 341h1v1h-1zM410 347h1v1h-1zM410 353h1v1h-1zM410 359h1v1h-1zM410 365h1v1h-1zM410 371h1v1h-1zM410 377h1v1h-1zM410 383h1v1h-1zM410 389h1v1h-1zM410 395h1v1h-1zM410 401h1v1h-1zM410 407h1v1h-1zM410 413h1v1h-1zM410 419h1v1h-1zM410 425h1v1h-1zM410 431h1v1h-1zM410 437h1v1h-1zM410 443h1v1h-1zM410 449h1v1h-1zM410 455h1v1h-1zM410 461h1v1h-1zM410 467h1v1h-1zM410 473h1v1h-1zM462 47h1v1h-1zM462 53h1v1h-1zM462 59h1v1h-1zM462 65h1v1h-1zM462 71h1v1h-1zM462 77h1v1h-1zM462 83h1v1h-1zM462 89h1v1h-1zM462 95h1v1h-1zM462 101h1v1h-1zM462 107h1v1h-1zM462 113h1v1h-1zM462 119h1v1h-1zM462 125h1v1h-1zM462 131h1v1h-1zM462 137h1v1h-1zM462 143h1v1h-1zM462 149h1v1h-1zM462 155h1v1h-1zM462 161h1v1h-1zM462 167h1v1h-1zM462 173h1v1h-1zM462 179h1v1h-1zM462 185h1v1h-1zM462 191h1v1h-1zM462 197h1v1h-1zM462 203h1v1h-1zM462 209h1v1h-1zM462 215h1v1h-1zM462 221h1v1h-1zM462 227h1v1h-1zM462 233h1v1h-1zM462 239h1v1h-1zM462 245h1v1h-1zM462 251h1v1h-1zM462 257h1v1h-1zM462 263h1v1h-1zM462 269h1v1h-1zM462 275h1v1h-1zM462 281h1v1h-1zM462 287h1v1h-1zM462 293h1v1h-1zM462 299h1v1h-1zM462 305h1v1h-1zM462 311h1v1h-1zM462 317h1v1h-1zM462 323h1v1h-1zM462 329h1v1h-1zM462 335h1v1h-1zM462 341h1v1h-1zM462 347h1v1h-1zM462 353h1v1h-1zM462 359h1v1h-1zM462 365h1v1h-1zM462 371h1v1h-1zM462 377h1v1h-1zM462 383h1v1h-1zM462 389h1v1h-1zM462 395h1v1h-1zM462 401h1v1h-1zM462 407h1v1h-1zM462 413h1v1h-1zM462 419h1v1h-1zM462 425h1v1h-1zM462 431h1v1h-1zM462 437h1v1h-1zM462 443h1v1h-1zM462 449h1v1h-1zM462 455h1v1h-1zM462 461h1v1h-1zM462 467h1v1h-1zM462 473h1v1h-1zM469 47h1v1h-1zM469 53h1v1h-1zM469 59h1v1h-1zM469 65h1v1h-1zM469 71h1v1h-1zM469 77h1v1h-1zM469 83h1v1h-1zM469 89h1v1h-1zM469 95h1v1h-1zM469 101h1v1h-1zM469 107h1v1h-1zM469 113h1v1h-1zM469 119h1v1h-1zM469 125h1v1h-1zM469 131h1v1h-1zM469 137h1v1h-1zM469 143h1v1h-1zM469 149h1v1h-1zM469 155h1v1h-1zM469 161h1v1h-1zM469 167h1v1h-1zM469 173h1v1h-1zM469 179h1v1h-1zM469 185h1v1h-1zM469 191h1v1h-1zM469 197h1v1h-1zM469 203h1v1h-1zM469 209h1v1h-1zM469 215h1v1h-1zM469 221h1v1h-1zM469 227h1v1h-1zM469 233h1v1h-1zM469 239h1v1h-1zM469 245h1v1h-1zM469 251h1v1h-1zM469 257h1v1h-1zM469 263h1v1h-1zM469 269h1v1h-1zM469 275h1v1h-1zM469 281h1v1h-1zM469 287h1v1h-1zM469 293h1v1h-1zM469 299h1v1h-1zM469 305h1v1h-1zM469 311h1v1h-1zM469 317h1v1h-1zM469 323h1v1h-1zM469 329h1v1h-1zM469 335h1v1h-1zM469 341h1v1h-1zM469 347h1v1h-1zM469 353h1v1h-1zM469 359h1v1h-1zM469 365h1v1h-1zM469 371h1v1h-1zM469 377h1v1h-1zM469 383h1v1h-1zM469 389h1v1h-1zM469 395h1v1h-1zM469 401h1v1h-1zM469 407h1v1h-1zM469 413h1v1h-1zM469 419h1v1h-1zM469 425h1v1h-1zM469 431h1v1h-1zM469 437h1v1h-1zM469 443h1v1h-1zM469 449h1v1h-1zM469 455h1v1h-1zM469 461h1v1h-1zM469 467h1v1h-1zM469 473h1v1h-1zM493 47h1v1h-1zM493 53h1v1h-1zM493 59h1v1h-1zM493 65h1v1h-1zM493 71h1v1h-1zM493 77h1v1h-1zM493 83h1v1h-1zM493 89h1v1h-1zM493 95h1v1h-1zM493 101h1v1h-1zM493 107h1v1h-1zM493 113h1v1h-1zM493 119h1v1h-1zM493 125h1v1h-1zM493 131h1v1h-1zM493 137h1v1h-1zM493 143h1v1h-1zM493 149h1v1h-1zM493 155h1v1h-1zM493 161h1v1h-1zM493 167h1v1h-1zM493 173h1v1h-1zM493 179h1v1h-1zM493 185h1v1h-1zM493 191h1v1h-1zM493 197h1v1h-1zM493 203h1v1h-1zM493 209h1v1h-1zM493 215h1v1h-1zM493 221h1v1h-1zM493 227h1v1h-1zM493 233h1v1h-1zM493 239h1v1h-1zM493 245h1v1h-1zM493 251h1v1h-1zM493 257h1v1h-1zM493 263h1v1h-1zM493 269h1v1h-1zM493 275h1v1h-1zM493 281h1v1h-1zM493 287h1v1h-1zM493 293h1v1h-1zM493 299h1v1h-1zM493 305h1v1h-1zM493 311h1v1h-1zM493 317h1v1h-1zM493 323h1v1h-1zM493 329h1v1h-1zM493 335h1v1h-1zM493 341h1v1h-1zM493 347h1v1h-1zM493 353h1v1h-1zM493 359h1v1h-1zM493 365h1v1h-1zM493 371h1v1h-1zM493 377h1v1h-1zM493 383h1v1h-1zM493 389h1v1h-1zM493 395h1v1h-1zM493 401h1v1h-1zM493 407h1v1h-1zM493 413h1v1h-1zM493 419h1v1h-1zM493 425h1v1h-1zM493 431h1v1h-1zM493 437h1v1h-1zM493 443h1v1h-1zM493 449h1v1h-1zM493 455h1v1h-1zM493 461h1v1h-1zM493 467h1v1h-1zM493 473h1v1h-1zM494 47h1v1h-1zM494 53h1v1h-1zM494 59h1v1h-1zM494 65h1v1h-1zM494 71h1v1h-1zM494 77h1v1h-1zM494 83h1v1h-1zM494 89h1v1h-1zM494 95h1v1h-1zM494 101h1v1h-1zM494 107h1v1h-1zM494 113h1v1h-1zM494 119h1v1h-1zM494 125h1v1h-1zM494 131h1v1h-1zM494 137h1v1h-1zM494 143h1v1h-1zM494 149h1v1h-1zM494 155h1v1h-1zM494 161h1v1h-1zM494 167h1v1h-1zM494 173h1v1h-1zM494 179h1v1h-1zM494 185h1v1h-1zM494 191h1v1h-1zM494 197h1v1h-1zM494 203h1v1h-1zM494 209h1v1h-1zM494 215h1v1h-1zM494 221h1v1h-1zM494 227h1v1h-1zM494 233h1v1h-1zM494 239h1v1h-1zM494 245h1v1h-1zM494 251h1v1h-1zM494 257h1v1h-1zM494 263h1v1h-1zM494 269h1v1h-1zM494 275h1v1h-1zM494 281h1v1h-1zM494 287h1v1h-1zM494 293h1v1h-1zM494 299h1v1h-1zM494 305h1v1h-1zM494 311h1v1h-1zM494 317h1v1h-1zM494 323h1v1h-1zM494 329h1v1h-1zM494 335h1v1h-1zM494 341h1v1h-1zM494 347h1v1h-1zM494 353h1v1h-1zM494 359h1v1h-1zM494 365h1v1h-1zM494 371h1v1h-1zM494 377h1v1h-1zM494 383h1v1h-1zM494 389h1v1h-1zM494 395h1v1h-1zM494 401h1v1h-1zM494 407h1v1h-1zM494 413h1v1h-1zM494 419h1v1h-1zM494 425h1v1h-1zM494 431h1v1h-1zM494 437h1v1h-1zM494 443h1v1h-1zM494 449h1v1h-1zM494 455h1v1h-1zM494 461h1v1h-1zM494 467h1v1h-1zM494 473h1v1h-1zM497 47h1v1h-1zM497 53h1v1h-1zM497 59h1v1h-1zM497 65h1v1h-1zM497 71h1v1h-1zM497 77h1v1h-1zM497 83h1v1h-1zM497 89h1v1h-1zM497 95h1v1h-1zM497 101h1v1h-1zM497 107h1v1h-1zM497 113h1v1h-1zM497 119h1v1h-1zM497 125h1v1h-1zM497 131h1v1h-1zM497 137h1v1h-1zM497 143h1v1h-1zM497 149h1v1h-1zM497 155h1v1h-1zM497 161h1v1h-1zM497 167h1v1h-1zM497 173h1v1h-1zM497 179h1v1h-1zM497 185h1v1h-1zM497 191h1v1h-1zM497 197h1v1h-1zM497 203h1v1h-1zM497 209h1v1h-1zM497 215h1v1h-1zM497 221h1v1h-1zM497 227h1v1h-1zM497 233h1v1h-1zM497 239h1v1h-1zM497 245h1v1h-1zM497 251h1v1h-1zM497 257h1v1h-1zM497 263h1v1h-1zM497 269h1v1h-1zM497 275h1v1h-1zM497 281h1v1h-1zM497 287h1v1h-1zM497 293h1v1h-1zM497 299h1v1h-1zM497 305h1v1h-1zM497 311h1v1h-1zM497 317h1v1h-1zM497 323h1v1h-1zM497 329h1v1h-1zM497 335h1v1h-1zM497 341h1v1h-1zM497 347h1v1h-1zM497 353h1v1h-1zM497 359h1v1h-1zM497 365h1v1h-1zM497 371h1v1h-1zM497 377h1v1h-1zM497 383h1v1h-1zM497 389h1v1h-1zM497 395h1v1h-1zM497 401h1v1h-1zM497 407h1v1h-1zM497 413h1v1h-1zM497 419h1v1h-1zM497 425h1v1h-1zM497 431h1v1h-1zM497 437h1v1h-1zM497 443h1v1h-1zM497 449h1v1h-1zM497 455h1v1h-1zM497 461h1v1h-1zM497 467h1v1h-1zM497 473h1v1h-1zM512 47h1v1h-1zM512 53h1v1h-1zM512 59h1v1h-1zM512 65h1v1h-1zM512 71h1v1h-1zM512 77h1v1h-1zM512 83h1v1h-1zM512 89h1v1h-1zM512 95h1v1h-1zM512 101h1v1h-1zM512 107h1v1h-1zM512 113h1v1h-1zM512 119h1v1h-1zM512 125h1v1h-1zM512 131h1v1h-1zM512 137h1v1h-1zM512 143h1v1h-1zM512 149h1v1h-1zM512 155h1v1h-1zM512 161h1v1h-1zM512 167h1v1h-1zM512 173h1v1h-1zM512 179h1v1h-1zM512 185h1v1h-1zM512 191h1v1h-1zM512 197h1v1h-1zM512 203h1v1h-1zM512 209h1v1h-1zM512 215h1v1h-1zM512 221h1v1h-1zM512 227h1v1h-1zM512 233h1v1h-1zM512 239h1v1h-1zM512 245h1v1h-1zM512 251h1v1h-1zM512 257h1v1h-1zM512 263h1v1h-1zM512 269h1v1h-1zM512 275h1v1h-1zM512 281h1v1h-1zM512 287h1v1h-1zM512 293h1v1h-1zM512 299h1v1h-1zM512 305h1v1h-1zM512 311h1v1h-1zM512 317h1v1h-1zM512 323h1v1h-1zM512 329h1v1h-1zM512 335h1v1h-1zM512 341h1v1h-1zM512 347h1v1h-1zM512 353h1v1h-1zM512 359h1v1h-1zM512 365h1v1h-1zM512 371h1v1h-1zM512 377h1v1h-1zM512 383h1v1h-1zM512 389h1v1h-1zM512 395h1v1h-1zM512 401h1v1h-1zM512 407h1v1h-1zM512 413h1v1h-1zM512 419h1v1h-1zM512 425h1v1h-1zM512 431h1v1h-1zM512 437h1v1h-1zM512 443h1v1h-1zM512 449h1v1h-1zM512 455h1v1h-1zM512 461h1v1h-1zM512 467h1v1h-1zM512 473h1v1h-1zM514 47h1v1h-1zM514 53h1v1h-1zM514 59h1v1h-1zM514 65h1v1h-1zM514 71h1v1h-1zM514 77h1v1h-1zM514 83h1v1h-1zM514 89h1v1h-1zM514 95h1v1h-1zM514 101h1v1h-1zM514 107h1v1h-1zM514 113h1v1h-1zM514 119h1v1h-1zM514 125h1v1h-1zM514 131h1v1h-1zM514 137h1v1h-1zM514 143h1v1h-1zM514 149h1v1h-1zM514 155h1v1h-1zM514 161h1v1h-1zM514 167h1v1h-1zM514 173h1v1h-1zM514 179h1v1h-1zM514 185h1v1h-1zM514 191h1v1h-1zM514 197h1v1h-1zM514 203h1v1h-1zM514 209h1v1h-1zM514 215h1v1h-1zM514 221h1v1h-1zM514 227h1v1h-1zM514 233h1v1h-1zM514 239h1v1h-1zM514 245h1v1h-1zM514 251h1v1h-1zM514 257h1v1h-1zM514 263h1v1h-1zM514 269h1v1h-1zM514 275h1v1h-1zM514 281h1v1h-1zM514 287h1v1h-1zM514 293h1v1h-1zM514 299h1v1h-1zM514 305h1v1h-1zM514 311h1v1h-1zM514 317h1v1h-1zM514 323h1v1h-1zM514 329h1v1h-1zM514 335h1v1h-1zM514 341h1v1h-1zM514 347h1v1h-1zM514 353h1v1h-1zM514 359h1v1h-1zM514 365h1v1h-1zM514 371h1v1h-1zM514 377h1v1h-1zM514 383h1v1h-1zM514 389h1v1h-1zM514 395h1v1h-1zM514 401h1v1h-1zM514 407h1v1h-1zM514 413h1v1h-1zM514 419h1v1h-1zM514 425h1v1h-1zM514 431h1v1h-1zM514 437h1v1h-1zM514 443h1v1h-1zM514 449h1v1h-1zM514 455h1v1h-1zM514 461h1v1h-1zM514 467h1v1h-1zM514 473h1v1h-1zM516 47h1v1h-1zM516 53h1v1h-1zM516 59h1v1h-1zM516 65h1v1h-1zM516 71h1v1h-1zM516 77h1v1h-1zM516 83h1v1h-1zM516 89h1v1h-1zM516 95h1v1h-1zM516 101h1v1h-1zM516 107h1v1h-1zM516 113h1v1h-1zM516 119h1v1h-1zM516 125h1v1h-1zM516 131h1v1h-1zM516 137h1v1h-1zM516 143h1v1h-1zM516 149h1v1h-1zM516 155h1v1h-1zM516 161h1v1h-1zM516 167h1v1h-1zM516 173h1v1h-1zM516 179h1v1h-1zM516 185h1v1h-1zM516 191h1v1h-1zM516 197h1v1h-1zM516 203h1v1h-1zM516 209h1v1h-1zM516 215h1v1h-1zM516 221h1v1h-1zM516 227h1v1h-1zM516 233h1v1h-1zM516 239h1v1h-1zM516 245h1v1h-1zM516 251h1v1h-1zM516 257h1v1h-1zM516 263h1v1h-1zM516 269h1v1h-1zM516 275h1v1h-1zM516 281h1v1h-1zM516 287h1v1h-1zM516 293h1v1h-1zM516 299h1v1h-1zM516 305h1v1h-1zM516 311h1v1h-1zM516 317h1v1h-1zM516 323h1v1h-1zM516 329h1v1h-1zM516 335h1v1h-1zM516 341h1v1h-1zM516 347h1v1h-1zM516 353h1v1h-1zM516 359h1v1h-1zM516 365h1v1h-1zM516 371h1v1h-1zM516 377h1v1h-1zM516 383h1v1h-1zM516 389h1v1h-1zM516 395h1v1h-1zM516 401h1v1h-1zM516 407h1v1h-1zM516 413h1v1h-1zM516 419h1v1h-1zM516 425h1v1h-1zM516 431h1v1h-1zM516 437h1v1h-1zM516 443h1v1h-1zM516 449h1v1h-1zM516 455h1v1h-1zM516 461h1v1h-1zM516 467h1v1h-1zM516 473h1v1h-1zM737 47h1v1h-1zM737 53h1v1h-1zM737 59h1v1h-1zM737 65h1v1h-1zM737 71h1v1h-1zM737 77h1v1h-1zM737 83h1v1h-1zM737 89h1v1h-1zM737 95h1v1h-1zM737 101h1v1h-1zM737 107h1v1h-1zM737 113h1v1h-1zM737 119h1v1h-1zM737 125h1v1h-1zM737 131h1v1h-1zM737 137h1v1h-1zM737 143h1v1h-1zM737 149h1v1h-1zM737 155h1v1h-1zM737 161h1v1h-1zM737 167h1v1h-1zM737 173h1v1h-1zM737 179h1v1h-1zM737 185h1v1h-1zM737 191h1v1h-1zM737 197h1v1h-1zM737 203h1v1h-1zM737 209h1v1h-1zM737 215h1v1h-1zM737 221h1v1h-1zM737 227h1v1h-1zM737 233h1v1h-1zM737 239h1v1h-1zM737 245h1v1h-1zM737 251h1v1h-1zM737 257h1v1h-1zM737 263h1v1h-1zM737 269h1v1h-1zM737 275h1v1h-1zM737 281h1v1h-1zM737 287h1v1h-1zM737 293h1v1h-1zM737 299h1v1h-1zM737 305h1v1h-1zM737 311h1v1h-1zM737 317h1v1h-1zM737 323h1v1h-1zM737 329h1v1h-1zM737 335h1v1h-1zM737 341h1v1h-1zM737 347h1v1h-1zM737 353h1v1h-1zM737 359h1v1h-1zM737 365h1v1h-1zM737 371h1v1h-1zM737 377h1v1h-1zM737 383h1v1h-1zM737 389h1v1h-1zM737 395h1v1h-1zM737 401h1v1h-1zM737 407h1v1h-1zM737 413h1v1h-1zM737 419h1v1h-1zM737 425h1v1h-1zM737 431h1v1h-1zM737 437h1v1h-1zM737 443h1v1h-1zM737 449h1v1h-1zM737 455h1v1h-1zM737 461h1v1h-1zM737 467h1v1h-1zM737 473h1v1h-1zM743 47h1v1h-1zM743 53h1v1h-1zM743 59h1v1h-1zM743 65h1v1h-1zM743 71h1v1h-1zM743 77h1v1h-1zM743 83h1v1h-1zM743 89h1v1h-1zM743 95h1v1h-1zM743 101h1v1h-1zM743 107h1v1h-1zM743 113h1v1h-1zM743 119h1v1h-1zM743 125h1v1h-1zM743 131h1v1h-1zM743 137h1v1h-1zM743 143h1v1h-1zM743 149h1v1h-1zM743 155h1v1h-1zM743 161h1v1h-1zM743 167h1v1h-1zM743 173h1v1h-1zM743 179h1v1h-1zM743 185h1v1h-1zM743 191h1v1h-1zM743 197h1v1h-1zM743 203h1v1h-1zM743 209h1v1h-1zM743 215h1v1h-1zM743 221h1v1h-1zM743 227h1v1h-1zM743 233h1v1h-1zM743 239h1v1h-1zM743 245h1v1h-1zM743 251h1v1h-1zM743 257h1v1h-1zM743 263h1v1h-1zM743 269h1v1h-1zM743 275h1v1h-1zM743 281h1v1h-1zM743 287h1v1h-1zM743 293h1v1h-1zM743 299h1v1h-1zM743 305h1v1h-1zM743 311h1v1h-1zM743 317h1v1h-1zM743 323h1v1h-1zM743 329h1v1h-1zM743 335h1v1h-1zM743 341h1v1h-1zM743 347h1v1h-1zM743 353h1v1h-1zM743 359h1v1h-1zM743 365h1v1h-1zM743 371h1v1h-1zM743 377h1v1h-1zM743 383h1v1h-1zM743 389h1v1h-1zM743 395h1v1h-1zM743 401h1v1h-1zM743 407h1v1h-1zM743 413h1v1h-1zM743 419h1v1h-1zM743 425h1v1h-1zM743 431h1v1h-1zM743 437h1v1h-1zM743 443h1v1h-1zM743 449h1v1h-1zM743 455h1v1h-1zM743 461h1v1h-1zM743 467h1v1h-1zM743 473h1v1h-1zM758 47h1v1h-1zM758 53h1v1h-1zM758 59h1v1h-1zM758 65h1v1h-1zM758 71h1v1h-1zM758 77h1v1h-1zM758 83h1v1h-1zM758 89h1v1h-1zM758 95h1v1h-1zM758 101h1v1h-1zM758 107h1v1h-1zM758 113h1v1h-1zM758 119h1v1h-1zM758 125h1v1h-1zM758 131h1v1h-1zM758 137h1v1h-1zM758 143h1v1h-1zM758 149h1v1h-1zM758 155h1v1h-1zM758 161h1v1h-1zM758 167h1v1h-1zM758 173h1v1h-1zM758 179h1v1h-1zM758 185h1v1h-1zM758 191h1v1h-1zM758 197h1v1h-1zM758 203h1v1h-1zM758 209h1v1h-1zM758 215h1v1h-1zM758 221h1v1h-1zM758 227h1v1h-1zM758 233h1v1h-1zM758 239h1v1h-1zM758 245h1v1h-1zM758 251h1v1h-1zM758 257h1v1h-1zM758 263h1v1h-1zM758 269h1v1h-1zM758 275h1v1h-1zM758 281h1v1h-1zM758 287h1v1h-1zM758 293h1v1h-1zM758 299h1v1h-1zM758 305h1v1h-1zM758 311h1v1h-1zM758 317h1v1h-1zM758 323h1v1h-1zM758 329h1v1h-1zM758 335h1v1h-1zM758 341h1v1h-1zM758 347h1v1h-1zM758 353h1v1h-1zM758 359h1v1h-1zM758 365h1v1h-1zM758 371h1v1h-1zM758 377h1v1h-1zM758 383h1v1h-1zM758 389h1v1h-1zM758 395h1v1h-1zM758 401h1v1h-1zM758 407h1v1h-1zM758 413h1v1h-1zM758 419h1v1h-1zM758 425h1v1h-1zM758 431h1v1h-1zM758 437h1v1h-1zM758 443h1v1h-1zM758 449h1v1h-1zM758 455h1v1h-1zM758 461h1v1h-1zM758 467h1v1h-1zM758 473h1v1h-1z" fill="#c02020"/></svg></body></html>
